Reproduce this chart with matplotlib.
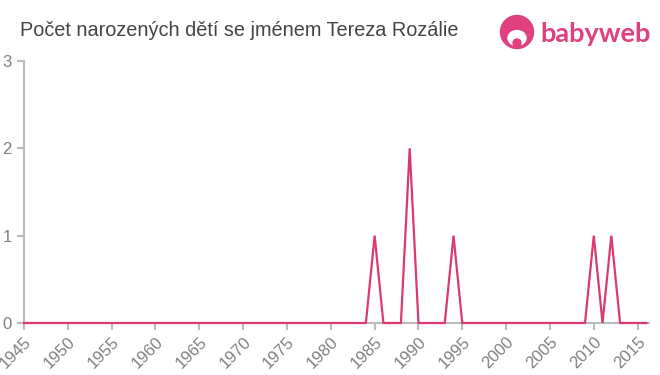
import matplotlib
matplotlib.use("Agg")
import matplotlib.pyplot as plt
from matplotlib.patches import Ellipse

plt.rcParams['font.family'] = ['Liberation Sans', 'DejaVu Sans']

years = list(range(1945, 2017))
peaks = {1985: 1, 1989: 2, 1994: 1, 2010: 1, 2012: 1}
counts = [peaks.get(y, 0) for y in years]
xticks = list(range(1945, 2016, 5))
yticks = [0, 1, 2, 3]
title = "Počet narozených dětí se jménem Tereza Rozálie"

fig = plt.figure(figsize=(6.6, 3.75), dpi=100)
ax = fig.add_axes([24/660, 1-323/375, (649-24)/660, (323-61)/375])
ax.plot(years, counts, color="#dc3a6c", lw=1.6, solid_joinstyle="miter", zorder=3, clip_on=False)
ax.set_xlim(1945, 2016.3)
ax.set_ylim(0, 3)
ax.set_xticks(xticks)
ax.set_xticklabels([str(x) for x in xticks], rotation=45, ha="right", va="top",
                   rotation_mode="anchor")
ax.set_yticks(yticks)
for s in ["top", "right"]:
    ax.spines[s].set_visible(False)
for s in ["left", "bottom"]:
    ax.spines[s].set_color("#bbbbbb")
    ax.spines[s].set_linewidth(1.5)
ax.tick_params(axis="both", colors="#bbbbbb", length=5, width=1.5, labelcolor="#808080", labelsize=12)
ax.tick_params(axis="x", pad=3)
ax.tick_params(axis="y", pad=4)

fig.text(20/660, 1-31/375, title, fontsize=14.3, color="#444444", va="center", ha="left")

# logo
logo_col = "#e0407f"
circ = Ellipse((517/660, 1-32/375), 33/660, 33/375, transform=fig.transFigure, color=logo_col, zorder=5)
fig.patches.append(circ)
face = Ellipse((517/660, 1-38/375), 18/660, 15/375, transform=fig.transFigure, color="white", zorder=6)
fig.patches.append(face)
chin = Ellipse((517/660, 1-43/375), 8/660, 8/375, transform=fig.transFigure, color=logo_col, zorder=7)
fig.patches.append(chin)
fig.text(540/660, 1-34/375, "babyweb", fontsize=19.5, color=logo_col, va="center", ha="left",
         fontweight="bold", family=["Lato", "DejaVu Sans"])

fig.savefig("out.png", dpi=100)
